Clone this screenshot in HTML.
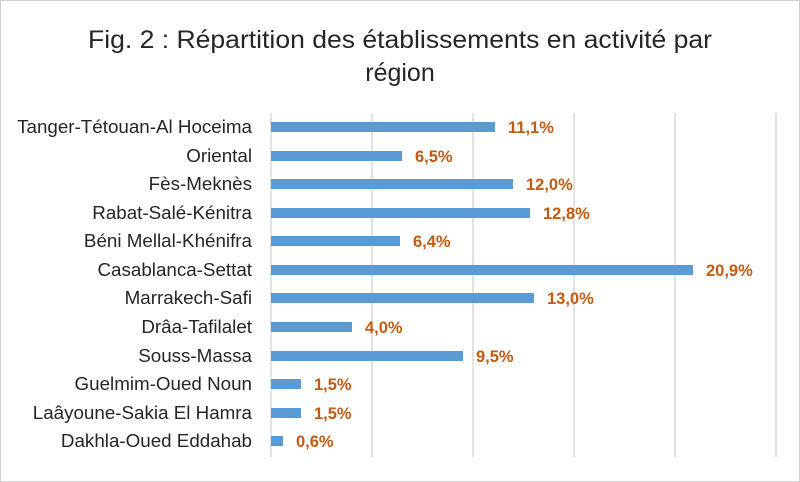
<!DOCTYPE html>
<html><head><meta charset="utf-8"><style>
body{margin:0;background:#fff}
svg{display:block}
</style></head><body>
<svg width="800" height="482" xmlns="http://www.w3.org/2000/svg" font-family="'Liberation Sans', sans-serif">
<rect x="0.5" y="0.5" width="799" height="481" fill="#fff" stroke="#d0d0d0"/>
<text x="400" y="48" text-anchor="middle" font-size="25" fill="#262626" textLength="624" lengthAdjust="spacingAndGlyphs">Fig. 2 : Répartition des établissements en activité par</text>
<text x="400" y="81" text-anchor="middle" font-size="25" fill="#262626">région</text>
<g stroke="#d9d9d9" stroke-width="1.5">
<line x1="372" y1="113" x2="372" y2="457"/>
<line x1="473" y1="113" x2="473" y2="457"/>
<line x1="574" y1="113" x2="574" y2="457"/>
<line x1="675" y1="113" x2="675" y2="457"/>
<line x1="776" y1="113" x2="776" y2="457"/>
<line x1="271" y1="113" x2="271" y2="457"/>
</g>
<g fill="#5b9bd5">
<rect x="271" y="122" width="224" height="10"/>
<rect x="271" y="151" width="131" height="10"/>
<rect x="271" y="179" width="242" height="10"/>
<rect x="271" y="208" width="259" height="10"/>
<rect x="271" y="236" width="129" height="10"/>
<rect x="271" y="265" width="422" height="10"/>
<rect x="271" y="293" width="263" height="10"/>
<rect x="271" y="322" width="81" height="10"/>
<rect x="271" y="351" width="192" height="10"/>
<rect x="271" y="379" width="30" height="10"/>
<rect x="271" y="408" width="30" height="10"/>
<rect x="271" y="436" width="12" height="10"/>
</g>
<g font-size="16.5" fill="#c55a11" font-weight="bold">
<text x="508" y="133">11,1%</text>
<text x="415" y="162">6,5%</text>
<text x="526" y="190">12,0%</text>
<text x="543" y="219">12,8%</text>
<text x="413" y="247">6,4%</text>
<text x="706" y="276">20,9%</text>
<text x="547" y="304">13,0%</text>
<text x="365" y="333">4,0%</text>
<text x="476" y="362">9,5%</text>
<text x="314" y="390">1,5%</text>
<text x="314" y="419">1,5%</text>
<text x="296" y="447">0,6%</text>
</g>
<g font-size="18.8" fill="#262626" text-anchor="end">
<text x="252" y="133">Tanger-Tétouan-Al Hoceima</text>
<text x="252" y="162">Oriental</text>
<text x="252" y="190">Fès-Meknès</text>
<text x="252" y="219">Rabat-Salé-Kénitra</text>
<text x="252" y="247">Béni Mellal-Khénifra</text>
<text x="252" y="276">Casablanca-Settat</text>
<text x="252" y="304">Marrakech-Safi</text>
<text x="252" y="333">Drâa-Tafilalet</text>
<text x="252" y="362">Souss-Massa</text>
<text x="252" y="390">Guelmim-Oued Noun</text>
<text x="252" y="419">Laâyoune-Sakia El Hamra</text>
<text x="252" y="447">Dakhla-Oued Eddahab</text>
</g>
</svg>
</body></html>
